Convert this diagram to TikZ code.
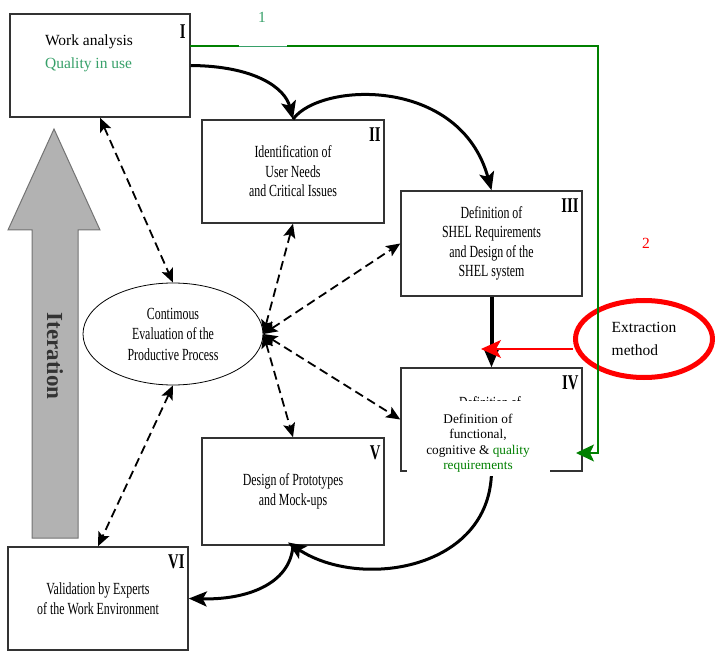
\documentclass[tikz,border=0pt]{standalone}
\usepackage{fontspec}
\setmainfont{Liberation Serif}
\newfontfamily\narrowserif[FakeStretch=0.7]{Liberation Serif}
\usepackage{xcolor}
\usepackage{tikz}
\usetikzlibrary{arrows.meta, positioning, shapes.geometric}
\definecolor{qualitygreen}{RGB}{55,160,105}
\definecolor{linegreen}{RGB}{0,128,0}
\tikzset{
	>={Stealth[length=18pt, width=15pt, inset=4pt]}, % makes the arrow heads bold
	phase/.style={draw=black!80, line width=1.5pt, minimum width=181pt, minimum height=103pt, inner sep=0pt, align=center, font=\narrowserif\fontsize{17}{19.5}\selectfont}, % the six phase boxes
	numeral/.style={anchor=north east, xshift=-4pt, yshift=-8pt, inner sep=0pt, font=\narrowserif\bfseries\fontsize{21}{21}\selectfont}, % roman number in the corner
	flow/.style={->, line width=3pt}, % main sequence of the phases
	evalarrow/.style={{Stealth[length=14pt, width=12pt, inset=3pt]}-{Stealth[length=14pt, width=12pt, inset=3pt]}, line width=1.8pt, dash pattern=on 9pt off 5pt}, % links of the evaluation
	note/.style={font=\fontsize{15.5}{23}\selectfont, align=left},
}

\begin{document}
\begin{tikzpicture}[x=1pt, y=-1pt]
		\useasboundingbox (0,0) rectangle (715,652);
		% Iteration arrow
		\draw[draw=black!55, fill=black!30, line width=1pt] (32,538) -- (32,230) -- (8,230) -- (54,129) -- (100,230) -- (78,230) -- (78,538) -- cycle;
		\node[rotate=-90, text=black!80, font=\bfseries\fontsize{23}{23}\selectfont] (iter) at (55,356) {Iteration};
		
		% Define the phases
		\node[phase, minimum width=180pt] (work) at (100,65.5) {};
		\node[note] (worktext) at (89,53) {Work analysis\\\textcolor{qualitygreen}{Quality in use}};
		\node[phase, minimum width=182pt] (ident) at (293,171.5) {Identification of\\User Needs\\and Critical Issues};
		\node[phase, minimum height=105pt] (spec) at (491.5,243.5) {Definition of\\SHEL Requirements\\and Design of the\\SHEL system};
		\node[phase] (func) at (491.5,419.5) {};
		\node[phase, minimum width=182pt, minimum height=107pt] (proto) at (293,491.5) {Design of Prototypes\\and Mock-ups};
		\node[phase, minimum width=180pt] (valid) at (98,598.5) {Validation by Experts\\of the Work Environment};
		\node[draw, ellipse, line width=0.8pt, minimum width=180pt, minimum height=102pt, inner sep=0pt, align=center, font=\narrowserif\fontsize{17}{20.5}\selectfont] (eval) at (173,334) {Contimous\\Evaluation of the\\Productive Process};
		
		% Numbers of the phases
		\node[numeral, xshift=-1pt, yshift=-3pt] at (work.north east) {I};
		\node[numeral] at (ident.north east) {II};
		\node[numeral] at (spec.north east) {III};
		\node[numeral] at (func.north east) {IV};
		\node[numeral] at (proto.north east) {V};
		\node[numeral] at (valid.north east) {VI};
		
		% Transitions
		\draw[flow] (work.east) .. controls (255,66) and (285,88) .. (ident.north);
		\draw[flow] (ident.north) .. controls (320,82) and (460,76) .. (spec.north);
		\draw[flow, line width=4pt] (spec.south) -- (func.north);
		\draw[flow, shorten >=-6pt] (func.south) .. controls (490,570) and (360,590) .. (proto.south);
		\draw[flow] (proto.south) .. controls (290,585) and (245,600) .. (valid.east);
		
		% Evaluation
		\path[evalarrow]
		(work.south) edge (eval.north)
		(eval.south) edge (valid.north)
		(eval.east) edge (ident.south)
		(eval.east) edge (spec.west)
		(eval.east) edge (func.west)
		(eval.east) edge (proto.north);
		
		% Patch over phase IV
		\node[anchor=base, font=\narrowserif\fontsize{17}{19.5}\selectfont] (oldtext) at (490,408) {Definition of};
		\node[fill=white, minimum width=143pt, minimum height=75pt, inner sep=0pt] (patch) at (478.5,438.5) {};
		\node[align=center, font=\fontsize{13.3}{15.5}\selectfont] (functext) at (478,443) {Definition of\\functional,\\cognitive \& \textcolor{linegreen}{quality}\\\textcolor{linegreen}{requirements}};
		
		% Extraction method
		\node[draw=red, ellipse, line width=5pt, minimum width=137pt, minimum height=77pt, inner sep=0pt, note] (extr) at (644,339) {Extraction\\method};
		\coordinate (redtip) at (481,349);
		\draw[-{Stealth[length=20pt, width=18pt, inset=5pt]}, red, line width=1.2pt] (extr.west |- redtip) -- (redtip);
		\node[red, font=\fontsize{15.5}{15.5}\selectfont] (two) at (646,243) {2};
		
		% Quality in use link
		\coordinate (gstart) at (190,46);
		\coordinate (gapleft) at (239,46);
		\coordinate (gapright) at (287,46);
		\coordinate (gcorner) at (598,46);
		\coordinate (gtip) at (576,453);
		\draw[linegreen, line width=1.5pt] (gstart) -- (gapleft);
		\draw[qualitygreen, line width=0.7pt] (gapleft) -- (gapright);
		\draw[-{Stealth[length=18pt, width=17pt, inset=4pt]}, linegreen, line width=1.5pt] (gapright) -- (gcorner) |- (gtip);
		\node[qualitygreen, font=\fontsize{15.5}{15.5}\selectfont] (one) at (262,17) {1};
	\end{tikzpicture}
\end{document}
